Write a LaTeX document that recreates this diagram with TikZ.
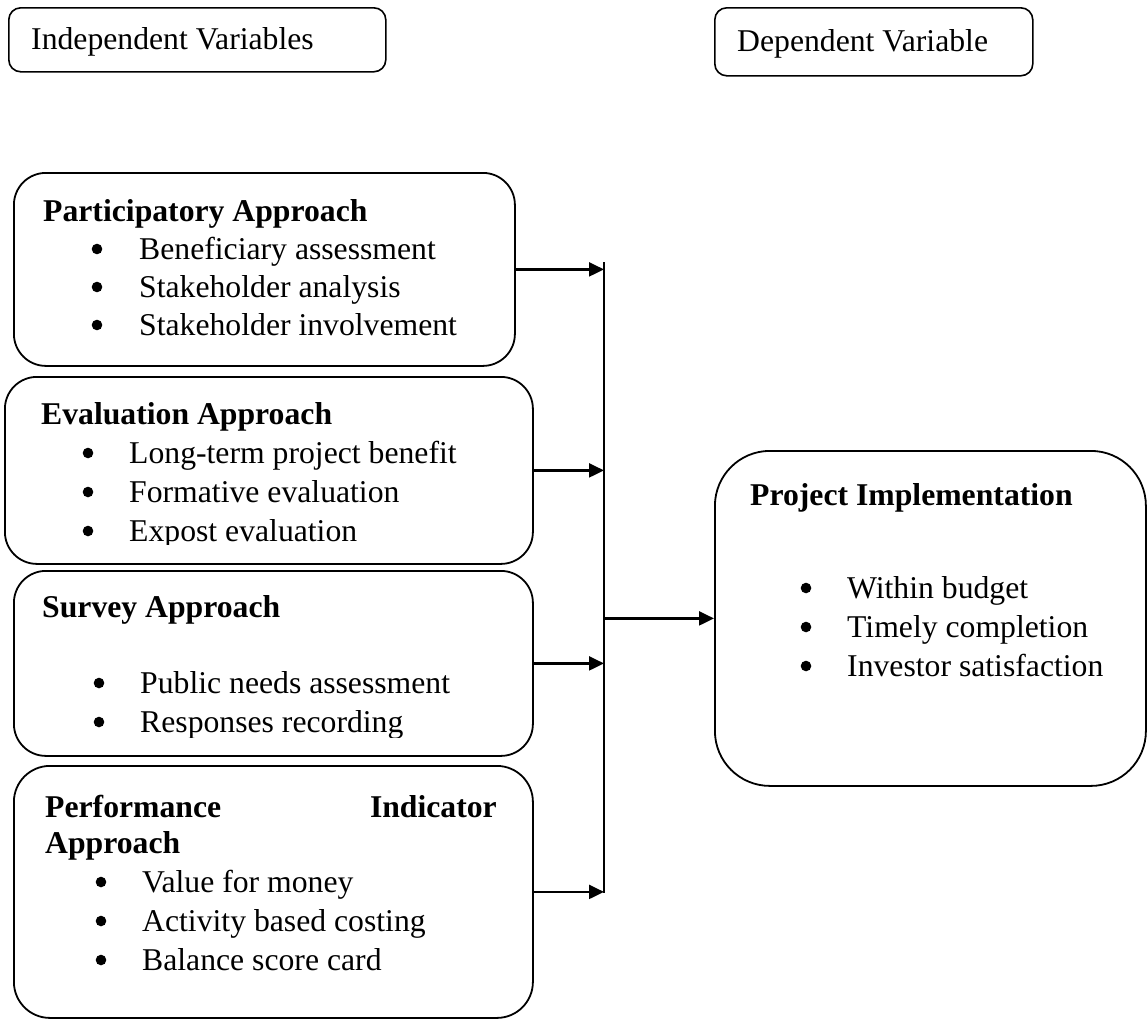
\documentclass[tikz,border=0pt]{standalone}
\usepackage{fontspec}
\setmainfont{Liberation Serif}
\usetikzlibrary{arrows.meta}

\newcommand{\figfont}{\fontsize{31.7pt}{38pt}\selectfont}

\begin{document}
\begin{tikzpicture}[x=1pt,y=-1pt,>={Triangle[length=15pt,width=14pt]},
    varbox/.style={draw,line width=1.6pt,rounded corners=12pt,
                   anchor=north west,inner sep=0pt},
    approach/.style={draw,line width=1.8pt,rounded corners=32pt,
                     anchor=north west,inner sep=0pt},
    label/.style={anchor=base west,inner sep=0pt,font=\figfont},
    head/.style={anchor=base west,inner sep=0pt,font=\figfont\bfseries},
    bulletline/.style={anchor=base west,inner sep=0pt,font=\figfont},
    dot/.style={fill,radius=5.3pt},
    link/.style={->,line width=2.2pt}]
    \useasboundingbox (0,0) rectangle (1147,1018);

    % variable headers
    \node [varbox,minimum width=377pt,minimum height=64pt] (indep) at (8,7) {};
    \node [varbox,minimum width=318pt,minimum height=68pt] (dep) at (714,7) {};
    \node [label] (indep-t) at (31,49) {Independent Variables};
    \node [label] (dep-t) at (737,51) {Dependent Variable};

    % approach boxes
    \node [approach,minimum width=501pt,minimum height=193pt] (part) at (13,172) {};
    \node [approach,minimum width=528pt,minimum height=187pt] (eval) at (4,376) {};
    \node [approach,minimum width=519pt,minimum height=185pt] (surv) at (13,570) {};
    \node [approach,minimum width=519pt,minimum height=252pt,
           rounded corners=36pt] (perf) at (13,765) {};
    \node [approach,minimum width=431pt,minimum height=335pt,
           rounded corners=55pt] (proj) at (714,450) {};

    \node [head] (part-h) at (43,221) {Participatory Approach};
    \foreach \txt [count=\i] in {Beneficiary assessment,Stakeholder analysis,
                                 Stakeholder involvement} {
        \node [bulletline] (part-\i) at (139,221+38*\i) {\txt};
        \fill [dot] ([xshift=-42pt,yshift=10pt]part-\i.base west) circle;
    }

    \begin{scope}
        \clip (eval.north west) rectangle (640,544);
        \node [head] (eval-h) at (41,424) {Evaluation Approach};
        \foreach \txt [count=\i] in {Long-term project benefit,Formative evaluation,
                                     Expost evaluation} {
            \node [bulletline] (eval-\i) at (129,424+39*\i) {\txt};
            \fill [dot] ([xshift=-41pt,yshift=10pt]eval-\i.base west) circle;
        }
    \end{scope}

    \begin{scope}
        \clip (surv.north west) rectangle (640,737);
        \node [head] (surv-h) at (42,617) {Survey Approach};
        \foreach \txt [count=\i] in {Public needs assessment,Responses recording} {
            \node [bulletline] (surv-\i) at (140,654+39*\i) {\txt};
            \fill [dot] ([xshift=-41pt,yshift=10pt]surv-\i.base west) circle;
        }
    \end{scope}

    \node [head] (perf-h1) at (45,817) {Performance};
    \node [head,anchor=base east] (perf-h2) at (497,817) {Indicator};
    \node [head] (perf-h3) at (45,853) {Approach};
    \foreach \txt [count=\i] in {Value for money,Activity based costing,
                                 Balance score card} {
        \node [bulletline] (perf-\i) at (142,853+39*\i) {\txt};
        \fill [dot] ([xshift=-41pt,yshift=10pt]perf-\i.base west) circle;
    }

    \node [head] (proj-h) at (750,505) {Project Implementation};
    \foreach \txt [count=\i] in {Within budget,Timely completion,
                                 Investor satisfaction} {
        \node [bulletline] (proj-\i) at (847,559+39*\i) {\txt};
        \fill [dot] ([xshift=-41pt,yshift=10pt]proj-\i.base west) circle;
    }

    % collecting line and arrows
    \coordinate (bus-top) at (604,262);
    \coordinate (bus-bot) at (604,893);
    \draw [line width=1.8pt] (bus-top) -- (bus-bot);
    \foreach \b in {part,eval,surv,perf}
        \draw [link] (\b.east) -- (\b.east -| bus-top);
    \draw [link] (bus-top |- proj.west) -- (proj.west);
\end{tikzpicture}
\end{document}
